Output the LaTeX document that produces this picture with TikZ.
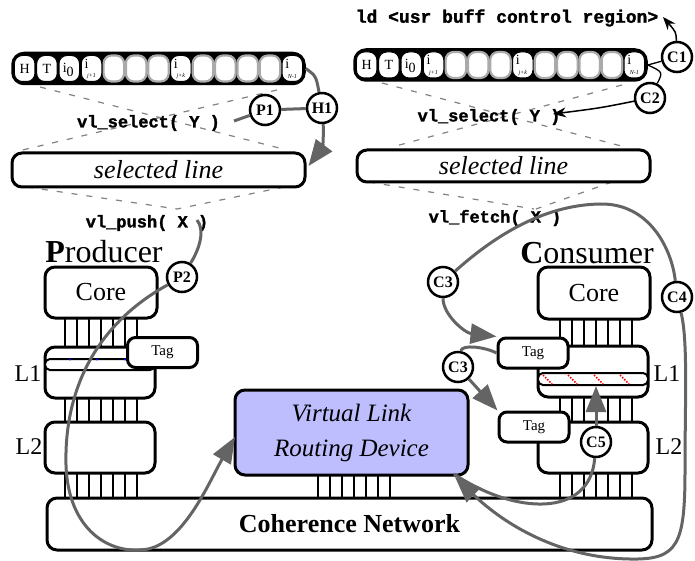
\documentclass[tikz,border=0pt]{standalone}
\usepackage{fontspec}
\setmainfont{Liberation Serif}
\setmonofont[BoldFeatures={FakeBold=1.6}]{Liberation Mono}
\usetikzlibrary{arrows.meta,calc}

\definecolor{conngray}{RGB}{100,100,100}
\definecolor{guidegray}{RGB}{130,130,130}
\definecolor{cellgray}{RGB}{170,170,170}
\definecolor{vlfill}{RGB}{190,190,255}

\newcommand{\fsz}[1]{\fontsize{#1}{#1}\selectfont}

\tikzset{
  bufframe/.style={fill=black, draw=black, line width=1.5pt, rounded corners=12pt,
    minimum width=293pt, minimum height=32pt, inner sep=0pt},
  cellbox/.style={fill=white, rounded corners=8pt, minimum width=20.5pt,
    minimum height=26pt, inner sep=0pt},
  celltext/.style={font=\fsz{14}, inner sep=0pt},
  subtext/.style={font=\fsz{6}\itshape, inner sep=0pt},
  unit/.style={draw=black, line width=3pt, rounded corners=10pt, fill=white, inner sep=0pt},
  band/.style={draw=black, line width=2pt, rounded corners=5pt, fill=white,
    minimum width=110pt, inner sep=0pt},
  tagbox/.style={draw=black, line width=3pt, rounded corners=8pt, fill=white,
    minimum width=70pt, minimum height=30pt, inner sep=0pt, font=\fsz{15}},
  lvl/.style={font=\fsz{24}, inner sep=0pt},
  rung/.style={draw=black, line width=2.2pt},
  conn/.style={draw=conngray, line width=3pt},
  bigtip/.style={-{Triangle[length=26pt,width=20pt]}},
  thinline/.style={draw=black, line width=1.3pt},
  thinarrow/.style={draw=black, line width=1.5pt, -{Stealth[length=13pt,width=10pt]}},
  stepmark/.style={circle, draw=black, line width=2.5pt, fill=white, inner sep=0pt,
    minimum size=30pt, font=\fsz{16}\bfseries},
  guide/.style={draw=guidegray, line width=1.2pt, dash pattern=on 6pt off 9pt},
  code/.style={font=\fsz{17}\ttfamily\bfseries, inner sep=0pt},
  role/.style={font=\fsz{32}, inner sep=0pt, anchor=base},
}

% a virtual-link buffer: centre x, centre y, name
\newcommand{\vlbuffer}[3]{%
  \node[bufframe] (#3) at (#1,#2) {};
  \foreach \k in {0,1,2,3,7,12}
    \node[cellbox, draw=black, line width=1pt] (#3-\k) at ({#1-133.85+\k*22.3},#2) {};
  \foreach \k in {4,5,6,8,9,10,11}
    \node[cellbox, draw=cellgray, line width=2.2pt] (#3-\k) at ({#1-133.85+\k*22.3},#2) {};
  \node[celltext] at (#3-0) {H};
  \node[celltext] at (#3-1) {T};
  \node[celltext] at ($(#3-2)+(-1,1)$) {i\raisebox{-4pt}{0}};
  \foreach \k/\sub in {3/j+1,7/j+k,12/N-1}{
    \node[celltext] at ($(#3-\k)+(-5,-5)$) {i};
    \node[subtext] at ($(#3-\k)+(0,8)$) {\sub};
  }
}

\begin{document}
\begin{tikzpicture}[x=1pt,y=-1pt]
\useasboundingbox (0,0) rectangle (695,561);

% ---- dashed guide lines (buffer -> selected line -> operation)
\draw[guide] (40,87) -- (287,150);
\draw[guide] (277,90) -- (14,152);
\draw[guide] (27,187) -- (177,209);
\draw[guide] (284,187) -- (177,209);
\draw[guide] (382,83) -- (625,147);
\draw[guide] (622,85) -- (392,147);
\draw[guide] (369,182) -- (534,209);
\draw[guide] (612,182) -- (536,209);

% ---- buffers and selected lines
\vlbuffer{158.5}{68.5}{lbuf}
\vlbuffer{500.5}{65}{rbuf}
\node[unit, minimum width=293pt, minimum height=34pt, font=\fsz{26}\itshape] (lsl) at (158.5,170) {selected line};
\node[unit, minimum width=293pt, minimum height=32pt, font=\fsz{26}\itshape] (rsl) at (503.5,166) {selected line};

% ---- operation texts
\node[code, font=\fsz{18}\ttfamily\bfseries] (ld) at (507,18) {ld <usr buff control region>};
\node[code] (lsel) at (148.5,123) {vl\_select( Y )};
\node[code] (rsel) at (489,117) {vl\_select( Y )};
\node[code] (push) at (147,223) {vl\_push( X )};
\node[code] (fetch) at (495,218) {vl\_fetch( X )};

\node[role] (prod) at (104,262) {\textbf{P}roducer};
\node[role] (cons) at (587,263) {\textbf{C}onsumer};

% ---- wiring between levels
\foreach \x in {65,77,...,137} {
  \draw[rung] (\x,318) -- (\x,347);
  \draw[rung] (\x,398) -- (\x,422);
  \draw[rung] (\x,473) -- (\x,498);
}
\foreach \x in {560,572,...,632} {
  \draw[rung] (\x,319) -- (\x,346);
  \draw[rung] (\x,397) -- (\x,422);
  \draw[rung] (\x,473) -- (\x,498);
}
\foreach \x in {318,330,...,390}
  \draw[rung] (\x,475) -- (\x,498);

% ---- producer side
\node[unit, minimum width=112pt, minimum height=51pt, font=\fsz{26}] (pcore) at (101,292.5) {Core};
\node[unit, minimum width=110pt, minimum height=51pt] (pl1) at (100,372.5) {};
\node[band, minimum height=11pt] (pband) at (100,364.5) {};
\foreach \x in {70,97,125}
  \fill[blue] (\x,359.5) circle (1.1pt);
\node[tagbox] (ptag) at (162.5,352.5) {Tag};
\node[unit, minimum width=110pt, minimum height=51pt] (pl2) at (100,447.5) {};
\node[lvl] (pl1lab) at (28,374) {L1};
\node[lvl] (pl2lab) at (29,447) {L2};

% ---- consumer side
\node[unit, minimum width=112pt, minimum height=52pt, font=\fsz{26}] (ccore) at (594,293) {Core};
\node[unit, minimum width=110pt, minimum height=51pt] (cl1) at (593,371.5) {};
\node[band, minimum height=12pt] (cband) at (593,379) {};
\foreach \x in {543,568,594,620}
  \draw[red, line width=1.6pt, dash pattern=on 1.5pt off 1.5pt] (\x,375) -- (\x+9,384);
\node[unit, minimum width=110pt, minimum height=51pt] (cl2) at (593,447.5) {};
\node[tagbox] (ctaga) at (533,353) {Tag};
\node[tagbox] (ctagb) at (534,427) {Tag};
\node[lvl] (cl1lab) at (667,374) {L1};
\node[lvl] (cl2lab) at (669,447) {L2};

% ---- shared parts
\node[unit, fill=vlfill, minimum width=233pt, minimum height=85pt, align=center,
      font=\fontsize{25}{35}\selectfont\itshape] (vlrd) at (351.5,432.5) {Virtual Link\\Routing Device};
\node[unit, minimum width=605pt, minimum height=52pt, font=\fsz{26}\bfseries] (net) at (349.5,524) {Coherence Network};

% ---- step markers
\node[stepmark] (P1) at (265,110) {P1};
\node[stepmark] (H1) at (322,108) {H1};
\node[stepmark] (P2) at (182,277) {P2};
\node[stepmark] (C1) at (677,57) {C1};
\node[stepmark] (C2) at (650,98) {C2};
\node[stepmark] (C3a) at (443,282) {C3};
\node[stepmark] (C4) at (677,297) {C4};
\node[stepmark] (C3b) at (458,367) {C3};
\node[stepmark] (C5) at (596,442) {C5};

% ---- anchor points on texts and boxes
\coordinate (psel) at (234,121);
\coordinate (pushX) at (197,220);
\coordinate (lsltip) at ($(lsl.east)+(2,-4)$);
\coordinate (vlin) at (235,437);
\coordinate (vlout) at (454,474);
\coordinate (vlback) at (455,477);
\coordinate (ldtip) at (663,17);
\coordinate (rseltip) at (553,114);

% ---- producer flow
\draw[conn] (lbuf.east) .. controls (316,76) .. (H1);
\draw[conn,bigtip] (H1) .. controls (324,136) and (322,148) .. (lsltip);
\draw[conn] (psel) -- (P1) -- (H1);
\draw[conn] (pushX) .. controls (205,230) and (200,248) .. (P2);
\draw[conn,bigtip] (P2) .. controls (100,322) and (64,385) .. (66,465)
  .. controls (68,530) and (110,556) .. (148,549)
  .. controls (185,541) and (210,480) .. (vlin);

% ---- consumer flow
\draw[thinline] (rbuf.east) -- (C1);
\draw[thinarrow] (C1) .. controls (676,32) .. (ldtip);
\draw[thinline] (rbuf.east) .. controls (663,72) .. (C2);
\draw[thinarrow] (C2) .. controls (600,108) .. (rseltip);
\draw[conn] (C3a) .. controls (490,240) and (540,205) .. (600,204)
  .. controls (650,203) and (672,250) .. (C4);
\draw[conn,bigtip] (C4) .. controls (688,340) and (685,400) .. (685,470)
  .. controls (685,545) and (678,560) .. (630,559)
  .. controls (560,558) and (505,525) .. (vlback);
\draw[conn,bigtip] (C3a) .. controls (443,315) and (465,333) .. (ctaga.north west);
\draw[conn] (ctaga.west) .. controls (485,347) and (462,344) .. (C3b);
\draw[conn,bigtip] (C3b) -- (ctagb.north west);
\draw[conn] (vlout) .. controls (515,515) and (590,518) .. (C5);
\draw[conn,bigtip] (C5) -- (C5 |- cband.south);

\end{tikzpicture}
\end{document}
